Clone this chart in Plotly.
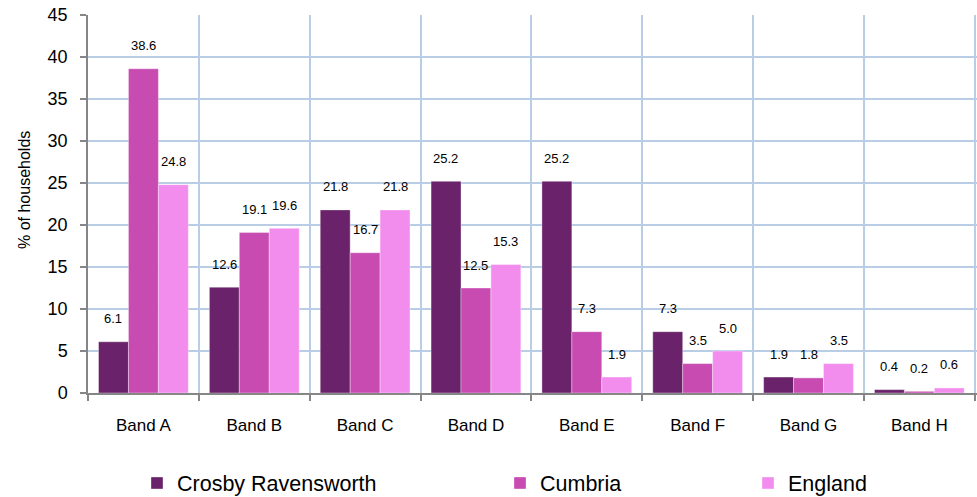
import plotly.graph_objects as go

categories = ["Band A", "Band B", "Band C", "Band D", "Band E", "Band F", "Band G", "Band H"]
crosby = [6.1, 12.6, 21.8, 25.2, 25.2, 7.3, 1.9, 0.4]
cumbria = [38.6, 19.1, 16.7, 12.5, 7.3, 3.5, 1.8, 0.2]
england = [24.8, 19.6, 21.8, 15.3, 1.9, 5.0, 3.5, 0.6]
series_names = ["Crosby Ravensworth", "Cumbria", "England"]
series_colors = ["#6A236A", "#C74BB0", "#F28DEE"]
series_values = [crosby, cumbria, england]
y_title = "% of households"

W, H = 977, 497
L, R, T, B = 88, 0, 15, 104
PW, PH = W - L - R, H - T - B
FONT = "Liberation Sans, Arial, sans-serif"

fig = go.Figure()
legend_ids = ["legend", "legend2", "legend3"]
for name, vals, col, lg in zip(series_names, series_values, series_colors, legend_ids):
    fig.add_trace(go.Bar(
        x=categories, y=vals, name=name,
        marker=dict(color=col, line=dict(color="rgba(255,255,255,0.6)", width=0.6)),
        legend=lg, showlegend=True,
    ))

# value labels above bars
offsets = [-30, 0, 30]
for vals, off in zip(series_values, offsets):
    for c, v in zip(categories, vals):
        fig.add_annotation(
            x=c, y=v, xref="x", yref="y", text=f"{v:.1f}", showarrow=False,
            xshift=off, yshift=23, yanchor="middle",
            font=dict(family=FONT, size=13, color="#000000"),
        )

# y-axis title (placed like the original, slightly above plot centre)
fig.add_annotation(
    text=y_title, textangle=-90, showarrow=False,
    xref="paper", yref="paper", x=0, y=(H - B - 190) / PH,
    xanchor="center", yanchor="middle", xshift=25 - L,
    font=dict(family=FONT, size=16, color="#000000"),
)

legend_px = [137, 500, 748]
legend_py = 483
def legend_cfg(px):
    return dict(orientation="h", xref="paper", yref="paper",
                x=(px - L) / PW, y=(H - B - legend_py) / PH,
                yanchor="middle", xanchor="left", bgcolor="rgba(0,0,0,0)",
                font=dict(family=FONT, size=21.5, color="#000000"))

fig.update_layout(
    width=W, height=H,
    paper_bgcolor="white", plot_bgcolor="white",
    margin=dict(l=L, r=R, t=T, b=B, autoexpand=False),
    barmode="group", bargap=0.19, bargroupgap=0,
    font=dict(family=FONT, color="#000000"),
    showlegend=True,
    legend=legend_cfg(legend_px[0]),
    legend2=legend_cfg(legend_px[1]),
    legend3=legend_cfg(legend_px[2]),
    xaxis=dict(
        type="category", range=[-0.5, 7.52],
        showline=True, linecolor="#868686", linewidth=1.5,
        ticks="outside", tickson="boundaries", ticklen=6, tickcolor="#868686", tickwidth=1.5,
        showgrid=True, gridcolor="#B9CDE5", gridwidth=1.5,
        tickfont=dict(family=FONT, size=17, color="#000000"),
        ticklabelstandoff=16,
    ),
    yaxis=dict(
        range=[0, 45], dtick=5, tick0=0,
        showline=True, linecolor="#868686", linewidth=1.5,
        ticks="outside", ticklen=6, tickcolor="#868686", tickwidth=1.5,
        showgrid=True, gridcolor="#B9CDE5", gridwidth=1.5,
        zeroline=False,
        tickfont=dict(family=FONT, size=18, color="#000000"),
        ticklabelstandoff=9,
    ),
)

fig.write_html("out.html", config={"displayModeBar": False},
               post_script="document.body.style.margin='0';document.body.style.padding='0';")
